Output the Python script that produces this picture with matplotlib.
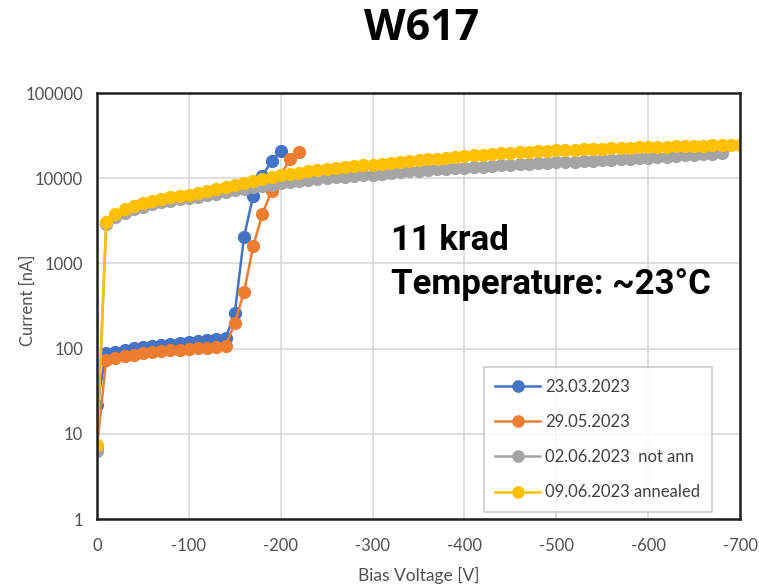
import matplotlib
matplotlib.use('Agg')
import matplotlib.pyplot as plt
from matplotlib.ticker import FixedLocator, FixedFormatter, NullLocator

plt.rcParams['axes.unicode_minus'] = False

# meetdata, stappen van 10 V
volt_blauw = list(range(0, -201, -10))
stroom_blauw = [22, 88, 92, 97, 101, 105, 108, 111, 114, 117, 120,
                123, 125, 128, 132, 260, 2040, 6200, 10500, 16000, 21000]

volt_oranje = list(range(0, -221, -10))
stroom_oranje = [7, 74, 78, 82, 85, 88, 90, 93, 95, 97, 99,
                 101, 102, 104, 107, 200, 460, 1580, 3800, 7100, 11000,
                 16600, 20500]

volt_grijs = list(range(0, -681, -10))
stroom_grijs = [6.3, 2900, 3500, 3950, 4300, 4650, 4950, 5200, 5450, 5650,
                5850, 6050, 6300, 6600, 6900, 7200, 7500, 7800, 8100, 8400,
                8700, 9000, 9300, 9550, 9800, 10000, 10200, 10400, 10600, 10800,
                11000, 11300, 11600, 11900, 12100, 12300, 12500, 12700, 12900, 13100,
                13300, 13500, 13700, 13900, 14100, 14300, 14500, 14700, 14900, 15100,
                15300, 15500, 15700, 15900, 16100, 16300, 16500, 16700, 16900, 17100,
                17300, 17600, 17900, 18200, 18500, 18800, 19100, 19300, 19500]

volt_geel = list(range(0, -701, -10))
stroom_geel = [7.4, 3100, 3800, 4300, 4700, 5100, 5400, 5700, 6000, 6200,
               6400, 6700, 7000, 7400, 7800, 8300, 8800, 9300, 9800, 10300,
               10800, 11200, 11600, 12000, 12400, 12800, 13100, 13400, 13800, 14100,
               14400, 14800, 15200, 15500, 15900, 16300, 16700, 17000, 17400, 17800,
               18200, 18500, 18800, 19200, 19500, 19800, 20100, 20400, 20700, 21000,
               21300, 21500, 21700, 21900, 22100, 22300, 22500, 22700, 22900, 23000,
               23200, 23300, 23500, 23600, 23800, 23900, 24000, 24200, 24300, 24400,
               24500]

reeksen = [
    (volt_blauw, stroom_blauw, '#4472C4', '23.03.2023'),
    (volt_oranje, stroom_oranje, '#ED7D31', '29.05.2023'),
    (volt_grijs, stroom_grijs, '#A5A5A5', '02.06.2023  not ann'),
    (volt_geel, stroom_geel, '#FFC000', '09.06.2023 annealed'),
]

x_ticks = [0, -100, -200, -300, -400, -500, -600, -700]
y_ticks = [1, 10, 100, 1000, 10000, 100000]

fig = plt.figure(figsize=(7.59, 5.88), dpi=100)
ax = fig.add_axes([97/759, 1-519/588, 643/759, 426/588])

for v, i, kleur, label in reeksen:
    ax.plot(v, i, color=kleur, marker='o', markersize=8.5, linewidth=1.8,
            label=label)

ax.set_yscale('log')
ax.set_xlim(0, -700)
ax.set_ylim(1, 100000)
ax.xaxis.set_major_locator(FixedLocator(x_ticks))
ax.xaxis.set_major_formatter(FixedFormatter([str(t) for t in x_ticks]))
ax.yaxis.set_major_locator(FixedLocator(y_ticks))
ax.yaxis.set_major_formatter(FixedFormatter([str(t) for t in y_ticks]))
ax.yaxis.set_minor_locator(NullLocator())
ax.tick_params(length=0, labelsize=12, labelcolor='#505050')
ax.tick_params(axis='x', pad=14)
ax.tick_params(axis='y', pad=10)
for lab in ax.get_xticklabels() + ax.get_yticklabels():
    lab.set_family('Lato')
ax.grid(True, color='#D9D9D9', linewidth=1.2)
ax.set_axisbelow(True)
for sp in ax.spines.values():
    sp.set_linewidth(1.8)
    sp.set_color('#202020')

ax.set_xlabel('Bias Voltage [V]', family='Lato', fontsize=12.5, color='#505050',
              labelpad=9)
# y-label los geplaatst, anders valt hij buiten beeld
fig.text(28/759, 1-300/588, 'Current [nA]', family='Lato', fontsize=12,
         color='#505050', rotation=90, ha='center', va='center')

fig.text(0.556, 1-40/588, 'W617', family='Open Sans', fontweight='bold',
         fontsize=31, ha='center', va='baseline')
ax.text(0.458, (519-250)/426, '11 krad', transform=ax.transAxes,
        family='Roboto', fontweight='bold', fontsize=25, va='baseline')
ax.text(0.458, (519-294)/426, 'Temperature: ~23°C', transform=ax.transAxes,
        family='Roboto', fontweight='bold', fontsize=25, va='baseline')

leg = ax.legend(loc='lower right', bbox_to_anchor=((712-97)/643, 7/426),
                borderaxespad=0, fancybox=False, edgecolor='#BFBFBF',
                prop={'family': 'Lato', 'size': 12}, labelspacing=1.15,
                handlelength=2.7, handletextpad=0.3, borderpad=0.7,
                markerscale=0.95)
leg.get_frame().set_linewidth(1.2)
for t in leg.get_texts():
    t.set_color('#404040')

fig.savefig('out.png', dpi=100)
